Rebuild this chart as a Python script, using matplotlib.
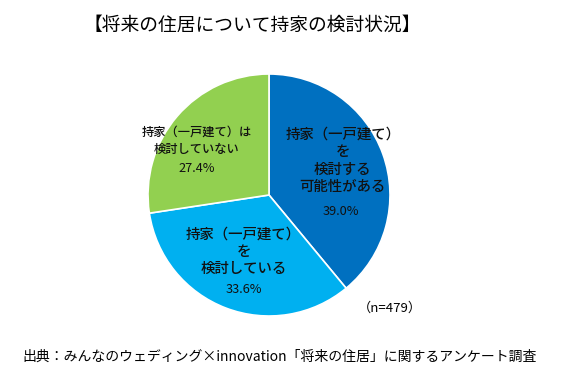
import matplotlib
matplotlib.use("Agg")
import matplotlib.pyplot as plt

plt.rcParams['font.family'] = ['Noto Sans CJK JP', 'DejaVu Sans']

title = "【将来の住居について持家の検討状況】"
labels = ["持家（一戸建て）\nを\n検討する\n可能性がある",
          "持家（一戸建て）\nを\n検討している",
          "持家（一戸建て）は\n検討していない"]
shares = [39.0, 33.6, 27.4]
colors = ["#0070C0", "#00B0F0", "#92D050"]
note = "（n=479）"
source = "出典：みんなのウェディング×innovation「将来の住居」に関するアンケート調査"

W, H = 567, 382
fig = plt.figure(figsize=(W / 100, H / 100), dpi=100)
fig.patch.set_facecolor("white")

# pie centre ~ (269,195) px, radius ~121 px
cx, cy, r = 269, 195, 121
ax = fig.add_axes([(cx - r) / W, (H - cy - r) / H, 2 * r / W, 2 * r / H])
ax.pie(shares, colors=colors, startangle=90, counterclock=False,
       wedgeprops=dict(edgecolor="white", linewidth=1.2))
ax.set_xlim(-1, 1)
ax.set_ylim(-1, 1)
ax.set_aspect("equal")

# label positions in pie units (label block centre, percent line)
lab_pos = [(0.61, 0.28), (-0.21, -0.47), (-0.60, 0.45)]
pct_pos = [(0.59, -0.14), (-0.21, -0.785), (-0.60, 0.22)]
lab_size = [10.4, 10.4, 8.8]
lab_space = [1.32, 1.32, 1.45]
for lab, s, (lx, ly), (px, py), fs, ls in zip(labels, shares, lab_pos, pct_pos,
                                             lab_size, lab_space):
    ax.text(lx, ly, lab, ha="center", va="center", fontsize=fs,
            fontweight="medium", linespacing=ls, color="#111111")
    ax.text(px, py, f"{s:.1f}%", ha="center", va="center", fontsize=9.2,
            color="#111111")

fig.text(252 / W, 1 - 25 / H, title, ha="center", va="center", fontsize=13.5)
fig.text(390 / W, 1 - 308 / H, note, ha="center", va="center", fontsize=9.5)
fig.text(280 / W, 1 - 357 / H, source, ha="center", va="center", fontsize=10)

fig.savefig("out.png", dpi=100)
